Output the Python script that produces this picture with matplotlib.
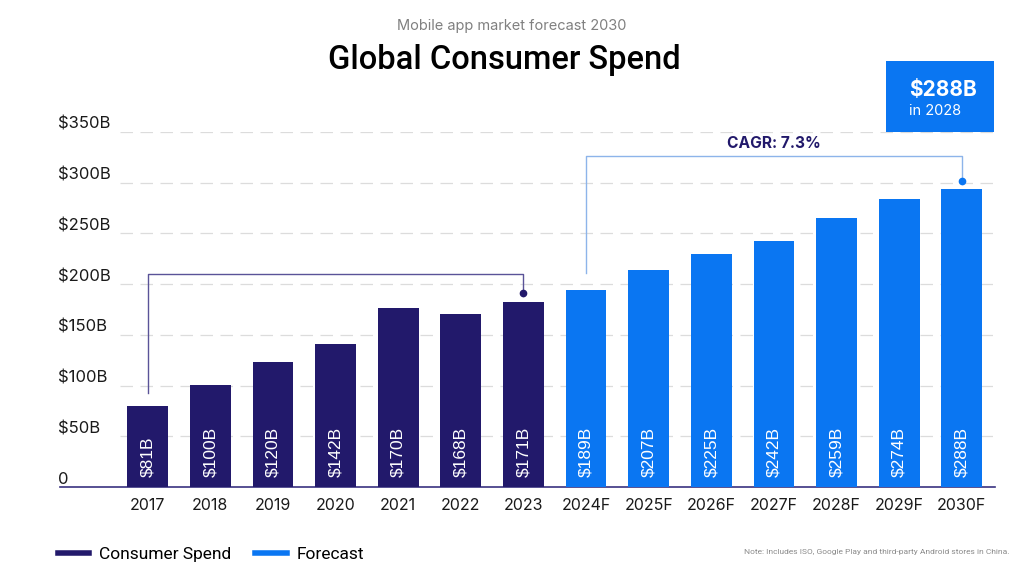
import matplotlib
matplotlib.use('Agg')
from matplotlib import patches, pyplot as plt
from matplotlib.lines import Line2D

# Data
years = ['2017', '2018', '2019', '2020', '2021', '2022', '2023',
         '2024F', '2025F', '2026F', '2027F', '2028F', '2029F', '2030F']
spend = [79.6, 100.3, 123, 141.4, 176, 170.3, 182.5,
         194, 214, 230, 243, 265, 284, 294]
value_labels = ['$81B', '$100B', '$120B', '$142B', '$170B', '$168B', '$171B',
                '$189B', '$207B', '$225B', '$242B', '$259B', '$274B', '$288B']
is_forecast = [False] * 7 + [True] * 7
y_ticks = [0, 50, 100, 150, 200, 250, 300, 350]
y_tick_labels = ['0', '$50B', '$100B', '$150B', '$200B', '$250B', '$300B', '$350B']

NAVY = '#22196b'
BLUE = '#0a76f2'
NAVY_LINE = '#5a5398'
BLUE_LINE = '#8db4ea'

W, H = 1024, 576
fig = plt.figure(figsize=(W / 100, H / 100), dpi=100)
ax = fig.add_axes([60 / W, (H - 487) / H, (995 - 60) / W, (487 - 132) / H])
ax.set_xlim(-1.40, 13.53)
ax.set_ylim(0, 350)

x = list(range(len(years)))
colors = [BLUE if f else NAVY for f in is_forecast]
ax.bar(x, spend, width=0.65, color=colors, zorder=3)

# value labels inside bars
for xi, lab in zip(x, value_labels):
    ax.text(xi, 10, lab, rotation=90, ha='center', va='bottom', color='white',
            fontsize=12.5, family='Liberation Sans', zorder=4)

# dashed gridlines
for yv in y_ticks[1:]:
    ax.hlines(yv, -0.44, 13.53, color='#dcdcdc', lw=0.9, linestyles=(0, (10, 6)), zorder=1)

# y tick labels (left aligned, sitting on the gridline)
ytrans = ax.get_yaxis_transform()
for yv, lab in zip(y_ticks, y_tick_labels):
    ax.text(-0.002, yv + 3, lab, transform=ytrans, ha='left', va='baseline',
            fontsize=12, color='#1a1a1a', family='Inter')

ax.set_yticks([])
ax.set_xticks(x)
ax.set_xticklabels(years, fontsize=11.5, family='Inter', color='#1a1a1a')
ax.tick_params(axis='x', length=0, pad=8)
for s in ['top', 'right', 'left']:
    ax.spines[s].set_visible(False)
ax.spines['bottom'].set_color('#3a3280')
ax.spines['bottom'].set_linewidth(1.2)

# CAGR brackets
hist_top = 210
ax.plot([0, 0, 6, 6], [spend[0] + 13, hist_top, hist_top, spend[6] + 6],
        color=NAVY_LINE, lw=1, clip_on=False, zorder=2)
ax.plot([6], [spend[6] + 8.5], 'o', color=NAVY, ms=4.5, clip_on=False)

fc_top = 326.5
ax.plot([7, 7, 13, 13], [spend[7] + 17, fc_top, fc_top, spend[13] + 5],
        color=BLUE_LINE, lw=1, clip_on=False, zorder=2)
ax.plot([13], [spend[13] + 7.5], 'o', color=BLUE, ms=4.5, clip_on=False)
ax.text(10, fc_top + 5, 'CAGR: 7.3%', ha='center', va='bottom', fontsize=11.2,
        fontweight='bold', color=NAVY, family='Inter', clip_on=False)

# titles
fig.text(512 / W, 1 - 26 / H, 'Mobile app market forecast 2030', ha='center', va='center',
         fontsize=10.5, color='#808080', family='Inter')
fig.text(504 / W, 1 - 60 / H, 'Global Consumer Spend', ha='center', va='center',
         fontsize=23.5, color='black', family='Roboto', fontweight='medium')

# highlight box
fig.add_artist(patches.Rectangle((886 / W, 1 - 132 / H), 108 / W, 71 / H,
                                 transform=fig.transFigure, color=BLUE, lw=0))
fig.text(909 / W, 1 - 90 / H, '$288B', ha='left', va='center', fontsize=15,
         fontweight='bold', color='white', family='Inter')
fig.text(909 / W, 1 - 111 / H, 'in 2028', ha='left', va='center', fontsize=10.5,
         color='white', family='Inter')

# legend
handles = [Line2D([], [], color=NAVY, lw=4), Line2D([], [], color=BLUE, lw=4)]
fig.legend(handles, ['Consumer Spend', 'Forecast'], loc='center left',
           bbox_to_anchor=(58 / W, 1 - 554 / H), ncol=2, frameon=False,
           borderpad=0, borderaxespad=0, handlelength=1.8, handletextpad=0.55,
           columnspacing=1.4, prop={'family': 'Roboto', 'size': 12.5})

fig.text(1010 / W, 1 - 552 / H,
         'Note: Includes ISO, Google Play and third-party Android stores in China.',
         ha='right', va='center', fontsize=6, color='#8a8a8a', family='Roboto')

fig.savefig('out.png', dpi=100)
